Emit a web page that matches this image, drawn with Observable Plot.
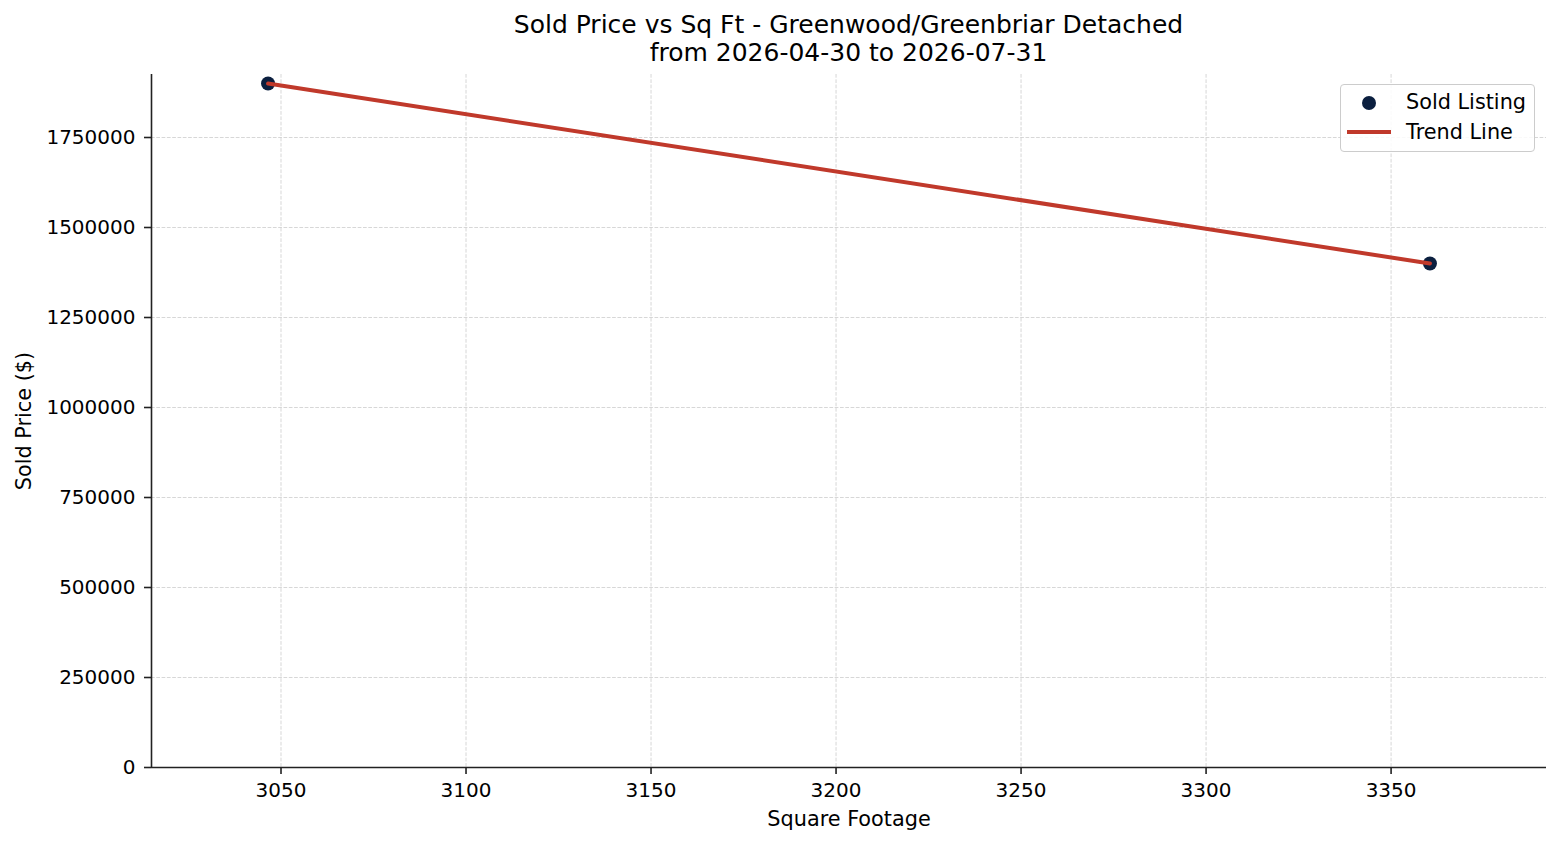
<!DOCTYPE html>
<html>
<head>
<meta charset="utf-8">
<script src="https://cdn.jsdelivr.net/npm/d3@7"></script>
<script src="https://cdn.jsdelivr.net/npm/@observablehq/plot@0.6"></script>
<style>
  html, body { margin: 0; padding: 0; background: #fff; }
  #wrap { position: relative; width: 1560px; height: 845px; font-family: "DejaVu Sans", sans-serif; }
  #title { position: absolute; left: 151px; width: 1395px; top: 11px; text-align: center; font-size: 25px; line-height: 28px; color: #000; }
  #legend { position: absolute; left: 1340px; top: 84px; width: 193px; height: 66px; border: 1px solid #cccccc; border-radius: 4px; background: rgba(255,255,255,0.85); font-size: 20.8px; color: #000; }
  #legend svg { position: absolute; left: 0; top: 0; }
  .lt { position: absolute; left: 65px; line-height: 20px; }
</style>
</head>
<body>
<div id="wrap">
  <div id="chart"></div>
  <div id="title">Sold Price vs Sq Ft - Greenwood/Greenbriar Detached<br>from 2026-04-30 to 2026-07-31</div>
  <div id="legend">
    <svg width="193" height="66">
      <circle cx="28" cy="18" r="7" fill="#0b1f3f"></circle>
      <line x1="6" x2="50" y1="47" y2="47" stroke="#c0392b" stroke-width="4"></line>
    </svg>
    <div class="lt" style="top:7px">Sold Listing</div>
    <div class="lt" style="top:37px">Trend Line</div>
  </div>
</div>
<script>
// Data
const sqft = [3046.5, 3360.5];
const soldPrice = [1900000, 1400000];
const trendSqft = [3046.5, 3360.5];
const trendPrice = [1900000, 1400000];
const xTicks = [3050, 3100, 3150, 3200, 3250, 3300, 3350];
const yTicks = [0, 250000, 500000, 750000, 1000000, 1250000, 1500000, 1750000];
const xDomain = [3015, 3392];
const yDomain = [0, 1925000];

const points = sqft.map((x, i) => ({x, y: soldPrice[i]}));
const trend = trendSqft.map((x, i) => ({x, y: trendPrice[i]}));

const gridStyle = {stroke: "#b0b0b0", strokeOpacity: 0.5, strokeWidth: 1, strokeDasharray: "3.7,1.6"};

const chart = Plot.plot({
  width: 1560,
  height: 845,
  marginLeft: 151,
  marginRight: 14,
  marginTop: 74,
  marginBottom: 78,
  style: {fontFamily: "DejaVu Sans, sans-serif", fontSize: "20px", color: "#000", background: "transparent"},
  x: {domain: xDomain},
  y: {domain: yDomain},
  marks: [
    Plot.gridX(xTicks, gridStyle),
    Plot.gridY(yTicks, gridStyle),
    Plot.axisX({ticks: xTicks, tickSize: 7, tickPadding: 8, tickFormat: d3.format("d"), label: null, stroke: "#222", strokeWidth: 1.6, fill: "#000", fontSize: 20}),
    Plot.axisY({ticks: yTicks, tickSize: 7, tickPadding: 9, tickFormat: d3.format("d"), label: null, stroke: "#222", strokeWidth: 1.6, fill: "#000", fontSize: 20}),
    Plot.ruleY([yDomain[0]], {stroke: "#222", strokeWidth: 1.6}),
    Plot.ruleX([xDomain[0]], {stroke: "#222", strokeWidth: 1.6}),
    Plot.text(["Square Footage"], {frameAnchor: "bottom", dy: 58, fontSize: 20.8, fill: "#000"}),
    Plot.text(["Sold Price ($)"], {frameAnchor: "left", textAnchor: "middle", dx: -127, rotate: -90, fontSize: 20.8, fill: "#000"}),
    Plot.dot(points, {x: "x", y: "y", r: 7, fill: "#0b1f3f", stroke: "none"}),
    Plot.line(trend, {x: "x", y: "y", stroke: "#c0392b", strokeWidth: 4})
  ]
});
document.getElementById("chart").appendChild(chart);
</script>
</body>
</html>
